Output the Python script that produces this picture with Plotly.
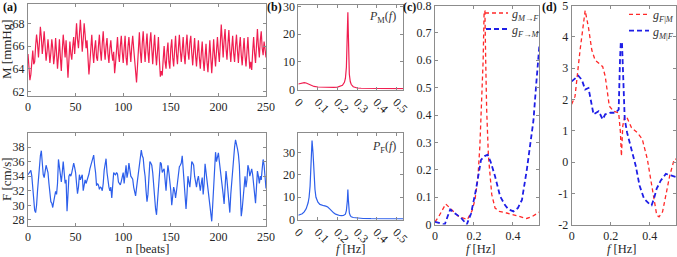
import plotly.graph_objects as go

FONT = "Liberation Serif, Times New Roman, serif"

# ---------------- data ----------------
beats = list(range(251))

M_mmHg = [
    65.3, 64.2, 63.0, 63.5, 64.8, 65.6, 64.4, 64.6, 66.0, 67.0,
    66.2, 65.0, 66.3, 67.7, 66.8, 65.3, 66.2, 67.3, 66.0, 64.7,
    65.5, 66.6, 65.6, 64.5, 65.4, 66.6, 65.8, 64.4, 65.2, 66.7,
    65.4, 64.0, 65.1, 66.6, 65.0, 63.8, 65.6, 67.0, 66.0, 65.0,
    66.5, 64.6, 63.2, 64.8, 66.4, 65.3, 64.8, 66.0, 66.8, 65.3,
    66.4, 68.0, 66.6, 65.8, 67.0, 68.3, 67.0, 65.5, 66.6, 68.0,
    67.0, 65.8, 66.5, 65.0, 63.5, 64.5, 66.0, 67.0, 65.5, 64.5,
    65.8, 66.5, 65.0, 64.7, 66.0, 67.0, 65.6, 64.7, 66.2, 67.3,
    65.8, 64.8, 66.0, 66.7, 65.3, 64.5, 65.8, 66.5, 65.4, 64.7,
    65.5, 63.6, 64.5, 66.0, 66.8, 65.3, 64.6, 66.0, 66.9, 65.5,
    64.5, 65.8, 66.9, 65.0, 64.3, 65.9, 66.8, 65.6, 64.6, 66.0,
    66.9, 65.8, 64.5, 63.5, 62.8, 64.2, 66.0, 67.2, 65.5, 64.5,
    66.2, 67.3, 65.8, 64.6, 66.0, 67.1, 65.5, 64.5, 66.3, 67.2,
    65.8, 64.4, 65.8, 67.0, 65.4, 64.3, 65.5, 66.8, 64.8, 63.3,
    63.8, 63.4, 64.8, 66.0, 64.6, 64.0, 65.5, 66.3, 64.6, 64.0,
    65.8, 66.6, 65.0, 64.2, 65.6, 66.9, 65.3, 64.4, 65.8, 67.0,
    65.6, 64.6, 65.6, 66.8, 65.2, 64.4, 66.0, 67.0, 65.5, 64.8,
    66.3, 66.9, 65.4, 64.3, 65.6, 66.7, 65.2, 64.2, 65.4, 66.5,
    65.0, 64.0, 65.3, 66.4, 64.8, 63.8, 65.0, 66.2, 64.6, 63.7,
    65.0, 66.5, 65.0, 63.6, 65.0, 66.6, 65.2, 64.2, 65.6, 66.8,
    65.5, 64.6, 66.2, 67.9, 66.5, 65.0, 66.5, 67.5, 65.8, 64.8,
    66.2, 67.4, 65.7, 64.6, 65.8, 66.9, 65.4, 64.6, 66.0, 67.0,
    65.6, 64.5, 65.9, 66.8, 65.2, 64.3, 65.6, 66.7, 65.1, 64.2,
    65.5, 66.8, 65.2, 64.0, 64.6, 63.9, 65.5, 66.8, 65.4, 64.5,
    66.0, 67.5, 66.0, 65.0, 66.5, 67.3, 65.8, 65.2, 66.4, 65.6,
    65.0,
]

F_cms = [
    34.2, 34.4, 34.6, 34.8, 34.0, 32.5, 30.5, 29.3, 29.0, 30.0,
    32.0, 34.0, 35.3, 36.8, 37.5, 35.5, 34.2, 33.8, 34.8, 35.5,
    35.0, 34.5, 33.0, 31.5, 30.5, 30.3, 29.7, 30.5, 31.2, 31.9,
    31.5, 33.0, 36.3, 35.0, 34.0, 33.2, 34.5, 36.0, 34.5, 33.0,
    33.5, 29.2, 31.5, 34.0, 34.3, 34.0, 34.5, 35.0, 35.8, 35.2,
    34.5, 33.0, 31.6, 32.5, 34.2, 33.5, 33.9, 34.2, 32.0, 32.8,
    33.5, 33.0, 33.4, 34.0, 34.3, 35.0, 35.4, 36.0, 36.3, 36.9,
    35.5, 34.5, 32.7, 33.0, 32.8, 32.2, 32.5, 32.4, 32.0, 33.0,
    34.8, 36.0, 36.4, 34.5, 33.3, 32.5, 32.0, 32.5, 31.0, 32.6,
    34.5, 34.3, 34.2, 34.5, 34.3, 33.2, 33.0, 32.8, 33.3, 34.0,
    34.5, 33.0, 34.5, 35.5, 33.8, 34.5, 35.8, 34.5, 34.0, 33.8,
    33.6, 32.5, 31.8, 31.3, 32.4, 33.5, 35.0, 36.0, 36.8, 37.6,
    36.8, 36.5, 35.0, 34.0, 32.0, 30.5, 31.5, 34.0, 36.0, 35.8,
    35.5, 34.5, 32.5, 30.5, 29.5, 28.7, 30.5, 32.0, 34.5, 35.9,
    35.7, 34.5, 34.8, 35.0, 33.5, 32.0, 34.0, 35.5, 34.5, 33.5,
    32.0, 30.0, 31.5, 32.5, 32.0, 31.0, 32.0, 33.0, 34.5, 35.3,
    35.5, 35.8, 36.8, 35.0, 33.5, 31.5, 29.5, 31.5, 34.0, 33.2,
    32.5, 34.0, 36.0, 35.8, 35.5, 34.0, 33.2, 32.5, 33.5, 34.0,
    33.0, 32.0, 33.0, 33.8, 31.5, 33.0, 35.7, 34.5, 33.5, 32.0,
    30.5, 29.5, 28.5, 27.8, 30.0, 33.0, 35.5, 37.3, 36.0, 36.5,
    37.2, 36.0, 35.0, 34.0, 33.0, 31.5, 30.2, 32.5, 34.7, 33.5,
    32.0, 30.5, 29.0, 31.5, 33.5, 35.0, 36.5, 38.0, 39.0, 38.5,
    37.8, 37.0, 35.5, 32.0, 28.5, 29.5, 31.5, 32.5, 34.0, 32.5,
    33.5, 35.5, 35.0, 34.0, 34.5, 35.0, 34.2, 33.0, 31.5, 30.3,
    32.5, 34.7, 34.0, 33.0, 34.0, 33.5, 35.0, 36.3, 35.5, 33.5,
    32.3,
]

PM_freq = [0, 0.01, 0.02, 0.03, 0.04, 0.05, 0.06, 0.07, 0.08, 0.10, 0.12, 0.14,
           0.16, 0.18, 0.20, 0.215, 0.225, 0.235, 0.24, 0.245, 0.25, 0.2525,
           0.255, 0.2575, 0.26, 0.265, 0.27, 0.28, 0.29, 0.30, 0.32, 0.35,
           0.40, 0.45, 0.50, 0.535]
PM_vals = [2.0, 2.2, 2.45, 2.5, 2.35, 2.0, 1.6, 1.3, 1.1, 0.9, 0.8, 0.75,
           0.72, 0.75, 0.85, 1.1, 1.5, 2.6, 4.0, 8.0, 20.0, 28.0,
           20.0, 10.0, 5.5, 2.8, 1.8, 1.0, 0.7, 0.55, 0.45, 0.38,
           0.33, 0.3, 0.3, 0.3]

PF_freq = [0, 0.01, 0.02, 0.03, 0.04, 0.05, 0.055, 0.06, 0.065, 0.07, 0.075,
           0.08, 0.085, 0.09, 0.10, 0.11, 0.12, 0.13, 0.14, 0.15, 0.16, 0.17,
           0.18, 0.19, 0.20, 0.21, 0.22, 0.23, 0.24, 0.245, 0.25, 0.2525,
           0.255, 0.2575, 0.26, 0.265, 0.27, 0.28, 0.30, 0.33, 0.37, 0.42,
           0.47, 0.535]
PF_vals = [1.9, 2.1, 2.6, 3.4, 4.8, 7.5, 10.0, 15.0, 25.0, 35.5, 30.0,
           20.0, 13.5, 10.0, 7.8, 6.8, 6.4, 6.2, 6.0, 5.6, 4.8, 3.8,
           3.0, 2.4, 2.0, 1.8, 1.7, 1.8, 2.4, 4.0, 8.5, 13.5,
           9.0, 5.0, 3.0, 1.7, 1.2, 0.9, 0.6, 0.45, 0.35, 0.3,
           0.3, 0.3]

gMF_freq = [0, 0.02, 0.055, 0.09, 0.12, 0.166, 0.19, 0.205, 0.22, 0.23, 0.24,
            0.247, 0.252, 0.256, 0.26, 0.265, 0.274, 0.291, 0.308, 0.33,
            0.368, 0.40, 0.437, 0.47, 0.50, 0.535]
gMF_vals = [0.01, 0.03, 0.075, 0.05, 0.03, 0.018, 0.05, 0.09, 0.17, 0.285, 0.45,
            0.6, 0.78, 0.78, 0.6, 0.42, 0.25, 0.11, 0.06, 0.048,
            0.042, 0.036, 0.03, 0.022, 0.03, 0.045]

gFM_freq = [0, 0.02, 0.05, 0.065, 0.078, 0.1, 0.134, 0.163, 0.185, 0.21, 0.236,
            0.255, 0.27, 0.285, 0.308, 0.334, 0.36, 0.377, 0.403, 0.425,
            0.446, 0.471, 0.49, 0.505, 0.52, 0.535]
gFM_vals = [0.01, 0.005, 0.0, 0.03, 0.055, 0.042, 0.024, 0.0, 0.04, 0.127, 0.236,
            0.25, 0.255, 0.23, 0.176, 0.103, 0.07, 0.055, 0.048, 0.06,
            0.09, 0.2, 0.3, 0.38, 0.52, 0.65]

gFgM_freq = [0, 0.017, 0.043, 0.069, 0.086, 0.103, 0.12, 0.138, 0.159, 0.172,
             0.193, 0.215, 0.241, 0.25, 0.255, 0.262, 0.272, 0.284, 0.307,
             0.336, 0.362, 0.388, 0.405, 0.422, 0.436, 0.448, 0.466, 0.483,
             0.503, 0.526, 0.535]
gFgM_vals = [1.85, 2.1, 3.58, 4.84, 4.3, 3.58, 3.26, 3.16, 3.05, 2.74,
             1.79, 1.63, 1.58, 0.95, 0.2, 1.16, 1.47, 1.42, 1.1,
             0.95, 0.74, 0.1, -0.58, -1.16, -1.68, -1.74, -1.58, -1.05,
             -0.42, 0.1, 0.1]

gMgF_freq = [0, 0.034, 0.052, 0.069, 0.086, 0.103, 0.112, 0.138, 0.159, 0.172,
             0.198, 0.224, 0.241, 0.248, 0.252, 0.258, 0.262, 0.266, 0.272,
             0.284, 0.307, 0.328, 0.348, 0.371, 0.397, 0.41, 0.422, 0.436,
             0.457, 0.483, 0.509, 0.535]
gMgF_vals = [2.58, 2.76, 2.63, 2.32, 2.37, 1.79, 1.53, 1.63, 1.37, 1.53,
             1.58, 1.58, 1.68, 3.3, 3.84, 3.8, 3.0, 2.2, 1.37,
             0.95, 0.42, -0.1, -0.74, -1.16, -1.32, -1.37, -1.16, -0.84,
             -0.58, -0.37, -0.42, -0.47]

legend_c = ["<i>g</i><sub><i>M</i>→<i>F</i></sub>", "<i>g</i><sub><i>F</i>→<i>M</i></sub>"]
legend_d = ["<i>g</i><sub><i>F</i>|<i>M</i></sub>", "<i>g</i><sub><i>M</i>|<i>F</i></sub>"]

# ---------------- styling ----------------
RED_A = "rgb(240,30,80)"
BLUE_A = "rgb(45,95,235)"
RED_D = "rgb(255,40,40)"
BLUE_D = "rgb(30,30,230)"
AXC = "#8c8c8c"
TXT = "#262626"
RED_DASH = "4px,3px"
BLUE_DASH = "5px,3px"

W, H = 677, 257


def px_x(a, b):
    return [a / W, b / W]


def px_y(top, bottom):
    return [1 - bottom / H, 1 - top / H]


fig = go.Figure()

fig.add_trace(go.Scatter(x=beats, y=M_mmHg, mode="lines", line=dict(color=RED_A, width=1.2),
                         xaxis="x", yaxis="y", showlegend=False))
fig.add_trace(go.Scatter(x=beats, y=F_cms, mode="lines", line=dict(color=BLUE_A, width=1.2),
                         xaxis="x2", yaxis="y2", showlegend=False))
fig.add_trace(go.Scatter(x=PM_freq, y=PM_vals, mode="lines", line=dict(color=RED_A, width=1.2),
                         xaxis="x3", yaxis="y3", showlegend=False))
fig.add_trace(go.Scatter(x=PF_freq, y=PF_vals, mode="lines", line=dict(color=BLUE_A, width=1.2),
                         xaxis="x4", yaxis="y4", showlegend=False))
fig.add_trace(go.Scatter(x=gMF_freq, y=gMF_vals, mode="lines", name=legend_c[0],
                         line=dict(color=RED_D, width=1.3, dash=RED_DASH),
                         xaxis="x5", yaxis="y5", showlegend=False))
fig.add_trace(go.Scatter(x=gFM_freq, y=gFM_vals, mode="lines", name=legend_c[1],
                         line=dict(color=BLUE_D, width=1.8, dash=BLUE_DASH),
                         xaxis="x5", yaxis="y5", showlegend=False))
fig.add_trace(go.Scatter(x=gFgM_freq, y=gFgM_vals, mode="lines", name=legend_d[0],
                         line=dict(color=RED_D, width=1.3, dash=RED_DASH),
                         xaxis="x6", yaxis="y6", showlegend=False))
fig.add_trace(go.Scatter(x=gMgF_freq, y=gMgF_vals, mode="lines", name=legend_d[1],
                         line=dict(color=BLUE_D, width=1.8, dash=BLUE_DASH),
                         xaxis="x6", yaxis="y6", showlegend=False))

common = dict(showline=True, linecolor=AXC, linewidth=1, mirror="ticks", ticks="inside",
              ticklen=3, tickcolor=AXC, showgrid=False, zeroline=False,
              ticklabeloverflow="allow",
              tickfont=dict(family=FONT, size=12, color=TXT))

layout = dict(
    width=W, height=H, margin=dict(l=0, r=0, t=0, b=0, autoexpand=False),
    paper_bgcolor="white", plot_bgcolor="white",
    font=dict(family=FONT, size=12, color=TXT),
    showlegend=False,
    xaxis=dict(domain=px_x(28, 266), anchor="y", range=[0, 250], tickvals=[0, 50, 100, 150, 200, 250], **common),
    yaxis=dict(domain=px_y(4, 96), anchor="x", range=[61.6, 69.7], tickvals=[62, 64, 66, 68], **common),
    xaxis2=dict(domain=px_x(28, 266), anchor="y2", range=[0, 250], tickvals=[0, 50, 100, 150, 200, 250], **common),
    yaxis2=dict(domain=px_y(132.5, 225.7), anchor="x2", range=[27.2, 40], tickvals=[28, 30, 32, 34, 36, 38], **common),
    xaxis3=dict(domain=px_x(298.3, 403.3), anchor="y3", range=[0, 0.535], tickvals=[0, 0.1, 0.2, 0.3, 0.4, 0.5],
                ticktext=["0", "0.1", "0.2", "0.3", "0.4", "0.5"], tickangle=45, **common),
    yaxis3=dict(domain=px_y(5, 89.5), anchor="x3", range=[0, 30.6], tickvals=[0, 10, 20, 30], **common),
    xaxis4=dict(domain=px_x(298.3, 403.3), anchor="y4", range=[0, 0.535], tickvals=[0, 0.1, 0.2, 0.3, 0.4, 0.5],
                ticktext=["0", "0.1", "0.2", "0.3", "0.4", "0.5"], tickangle=45, **common),
    yaxis4=dict(domain=px_y(132.7, 219.5), anchor="x4", range=[0, 39], tickvals=[0, 10, 20, 30], **common),
    xaxis5=dict(domain=px_x(435, 539.3), anchor="y5", range=[0, 0.535], tickvals=[0, 0.2, 0.4],
                ticktext=["0", "0.2", "0.4"], **common),
    yaxis5=dict(domain=px_y(5.5, 224.5), anchor="x5", range=[0, 0.8],
                tickvals=[0, 0.1, 0.2, 0.3, 0.4, 0.5, 0.6, 0.7, 0.8],
                ticktext=["0", "0.1", "0.2", "0.3", "0.4", "0.5", "0.6", "0.7", "0.8"], **common),
    xaxis6=dict(domain=px_x(571.7, 676), anchor="y6", range=[0, 0.535], tickvals=[0, 0.2, 0.4],
                ticktext=["0", "0.2", "0.4"], **common),
    yaxis6=dict(domain=px_y(5.5, 225), anchor="x6", range=[-2, 5],
                tickvals=[-2, -1, 0, 1, 2, 3, 4, 5],
                ticktext=["-2", "-1", "0", "1", "2", "3", "4", "5"], **common),
)

ann = []
shapes = []


def add_text(text, x, y, size=13, bold=False, angle=0, xanchor="center", yanchor="middle", color=TXT, pad=1):
    if bold:
        text = "<b>" + text + "</b>"
    ann.append(dict(text=text, x=x / W, y=1 - y / H, xref="paper", yref="paper", showarrow=False,
                    font=dict(family=FONT, size=size, color=color), textangle=angle,
                    xanchor=xanchor, yanchor=yanchor, borderpad=pad))


def add_key(x0, x1, y, color, width, dash, label):
    shapes.append(dict(type="line", xref="paper", yref="paper", x0=x0 / W, x1=x1 / W,
                       y0=1 - y / H, y1=1 - y / H, line=dict(color=color, width=width, dash=dash)))
    add_text(label, x1 + 2, y + 2, size=12, xanchor="left", color="#333333")


add_key(485, 508, 13, RED_D, 1.3, RED_DASH, legend_c[0])
add_key(486, 508, 29, BLUE_D, 1.8, BLUE_DASH, legend_c[1])
add_key(629, 649, 14.3, RED_D, 1.3, RED_DASH, legend_d[0])
add_key(629, 649, 30.7, BLUE_D, 1.8, BLUE_DASH, legend_d[1])

add_text("(a)", 1, 7, size=12, bold=True, xanchor="left", color="#111")
add_text("(b)", 265, 7, size=12, bold=True, xanchor="left", color="#111")
add_text("(c)", 401, 7, size=12, bold=True, xanchor="left", color="#111")
add_text("(d)", 540, 7, size=12, bold=True, xanchor="left", color="#111")
add_text("M [mmHg]", 6, 49, angle=-90)
add_text("F [cm/s]", 6, 179, angle=-90)
add_text("n [beats]", 147, 249, size=12.5, pad=0)
add_text("<i>f</i> [Hz]", 351, 249, size=12.5, pad=0)
add_text("<i>f</i> [Hz]", 481, 249, size=12.5, pad=0)
add_text("<i>f</i> [Hz]", 622, 249, size=12.5, pad=0)
add_text("<i>P</i><sub>M</sub>(<i>f</i>)", 398, 17, size=12, xanchor="right", color="#333")
add_text("<i>P</i><sub>F</sub>(<i>f</i>)", 398, 147, size=12, xanchor="right", color="#333")

layout["annotations"] = ann
layout["shapes"] = shapes
fig.update_layout(**layout)

fig.write_html("out.html")
